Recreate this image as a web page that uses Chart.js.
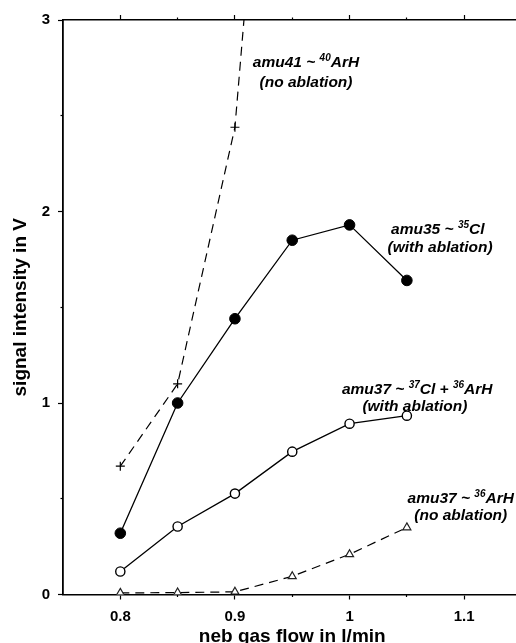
<!DOCTYPE html>
<html>
<head>
<meta charset="utf-8">
<script src="https://cdn.jsdelivr.net/npm/chart.js@4.4.1/dist/chart.umd.min.js"></script>
<style>
  html, body { margin: 0; padding: 0; background: #fff; }
  #wrap { width: 516px; height: 643px; overflow: hidden; }
  canvas { display: block; }
</style>
</head>
<body>
<div id="wrap"><canvas id="chart" width="530" height="660"></canvas></div>
<script>
// neb gas flow (l/min) and signal (V) per mass
const flow = [0.8, 0.85, 0.9, 0.95, 1.0, 1.05];
const arh40 = [0.67, 1.10, 2.44, 6.0];          // amu41, runs off the top
const cl35 = [0.32, 1.00, 1.44, 1.85, 1.93, 1.64];
const cl37arh36 = [0.12, 0.355, 0.527, 0.746, 0.892, 0.934];
const arh36 = [0.008, 0.01, 0.014, 0.095, 0.21, 0.35];

const xMajor = [0.8, 0.9, 1.0, 1.1];
const xMinor = [0.85, 0.95, 1.05];
const yMajor = [0, 1, 2, 3];
const yMinor = [0.5, 1.5, 2.5];

// label text: [text, isSuperscript]
const notes = [
  { x: 0.962, y: 2.775, parts: [["amu41 ~ "], ["40", 1], ["ArH"]] },
  { x: 0.962, y: 2.671, parts: [["(no ablation)"]] },
  { x: 1.077, y: 1.904, parts: [["amu35 ~ "], ["35", 1], ["Cl"]] },
  { x: 1.079, y: 1.809, parts: [["(with ablation)"]] },
  { x: 1.059, y: 1.069, parts: [["amu37 ~ "], ["37", 1], ["Cl + "], ["36", 1], ["ArH"]] },
  { x: 1.057, y: 0.982, parts: [["(with ablation)"]] },
  { x: 1.097, y: 0.50, parts: [["amu37 ~ "], ["36", 1], ["ArH"]] },
  { x: 1.097, y: 0.412, parts: [["(no ablation)"]] },
];

const FONT = "'Liberation Sans', Arial, Helvetica, sans-serif";
const tickFont = { family: FONT, size: 15, weight: "bold" };
const titleFont = { family: FONT, size: 19, weight: "bold" };

function pts(ys) {
  return ys.map((y, i) => ({ x: flow[i], y }));
}

function fixTicks(vals) {
  return (s) => { s.ticks = vals.map((v) => ({ value: v })); };
}

function plainAxis(position, weight, min, max, vals, len, size, border) {
  const horiz = position === "top" || position === "bottom";
  return {
    type: "linear",
    axis: horiz ? "x" : "y",
    position, weight, min, max,
    afterBuildTicks: fixTicks(vals),
    afterFit: (s) => { if (horiz) s.height = size; else s.width = size; },
    grid: { drawOnChartArea: false, drawTicks: true, tickLength: len, tickWidth: 1.2, tickColor: "#000" },
    border: { display: border, color: "#000", width: 1.6 },
    ticks: { display: false },
  };
}

const notesPlugin = {
  id: "notes",
  afterDatasetsDraw(chart) {
    const ctx = chart.ctx;
    const xs = chart.scales.x, ys = chart.scales.y;
    const big = "italic bold 15.5px " + FONT;
    const small = "italic bold 10px " + FONT;
    ctx.save();
    ctx.fillStyle = "#000";
    ctx.textBaseline = "middle";
    ctx.textAlign = "left";
    for (const n of notes) {
      const cx = xs.getPixelForValue(n.x);
      const cy = ys.getPixelForValue(n.y);
      let w = 0;
      for (const p of n.parts) {
        ctx.font = p[1] ? small : big;
        w += ctx.measureText(p[0]).width;
      }
      let x = cx - w / 2;
      for (const p of n.parts) {
        ctx.font = p[1] ? small : big;
        ctx.fillText(p[0], x, p[1] ? cy - 5 : cy);
        x += ctx.measureText(p[0]).width;
      }
    }
    ctx.restore();
  },
};

new Chart(document.getElementById("chart"), {
  type: "line",
  data: {
    datasets: [
      {
        data: pts(arh40), xAxisID: "x", yAxisID: "y",
        borderColor: "#000", borderWidth: 1.2, borderDash: [9, 6],
        pointStyle: "cross", pointRadius: 4.5, pointBorderColor: "#000", pointBorderWidth: 1.2,
      },
      {
        data: pts(cl35), xAxisID: "x", yAxisID: "y",
        borderColor: "#000", borderWidth: 1.3,
        pointStyle: "circle", pointRadius: 5.3, pointBackgroundColor: "#000", pointBorderColor: "#000", pointBorderWidth: 1,
      },
      {
        data: pts(cl37arh36), xAxisID: "x", yAxisID: "y",
        borderColor: "#000", borderWidth: 1.3,
        pointStyle: "circle", pointRadius: 4.6, pointBackgroundColor: "#fff", pointBorderColor: "#000", pointBorderWidth: 1.4,
      },
      {
        data: pts(arh36), xAxisID: "x", yAxisID: "y",
        borderColor: "#000", borderWidth: 1.2, borderDash: [9, 6],
        pointStyle: "triangle", pointRadius: 4.6, pointBackgroundColor: "#fff", pointBorderColor: "#222", pointBorderWidth: 1.2,
      },
    ],
  },
  options: {
    responsive: false,
    devicePixelRatio: 1,
    animation: false,
    events: [],
    layout: { padding: { left: 0, top: 0, right: 8.5, bottom: 0 } },
    plugins: { legend: { display: false }, tooltip: { enabled: false } },
    elements: { line: { tension: 0 } },
    scales: {
      x: {
        type: "linear", position: "bottom", weight: 1, min: 0.75, max: 1.15,
        afterBuildTicks: fixTicks(xMajor),
        afterFit: (s) => { s.height = 65.5; },
        grid: { drawOnChartArea: false, drawTicks: true, tickLength: 5, tickWidth: 1.2, tickColor: "#000" },
        border: { display: true, color: "#000", width: 1.6 },
        ticks: { color: "#000", font: tickFont, padding: 8, maxRotation: 0, autoSkip: false, callback: (v) => String(v) },
        title: { display: true, text: "neb gas flow in l/min", color: "#000", font: titleFont, padding: { top: 0, bottom: 11.6 } },
      },
      y: {
        type: "linear", position: "left", weight: 1, min: 0, max: 3,
        afterBuildTicks: fixTicks(yMajor),
        afterFit: (s) => { s.width = 63; },
        grid: { drawOnChartArea: false, drawTicks: true, tickLength: 5, tickWidth: 1.2, tickColor: "#000" },
        border: { display: true, color: "#000", width: 1.8 },
        ticks: { color: "#000", font: tickFont, padding: 8, callback: (v) => String(v) },
        title: { display: true, text: "signal intensity in V", color: "#000", font: titleFont, padding: { top: 9.6, bottom: 0 } },
      },
      xMinor: plainAxis("bottom", 0, 0.75, 1.15, xMinor, 2.5, 0, false),
      xTop: plainAxis("top", 1, 0.75, 1.15, xMajor, 5, 20, true),
      xTopMinor: plainAxis("top", 0, 0.75, 1.15, xMinor, 2.5, 0, false),
      yMinor: plainAxis("left", 0, 0, 3, yMinor, 2.5, 0, false),
    },
  },
  plugins: [notesPlugin],
});
</script>
</body>
</html>
